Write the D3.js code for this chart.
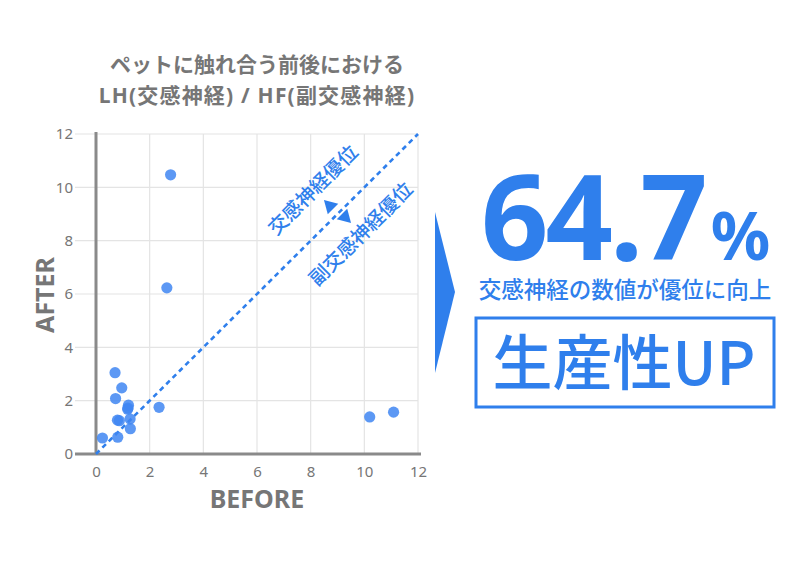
<!DOCTYPE html>
<html>
<head>
<meta charset="utf-8">
<script src="https://cdn.jsdelivr.net/npm/d3@7"></script>
<style>
  body { margin: 0; background: #fff; }
  svg { display: block; font-family: "Noto Sans CJK JP", "Noto Sans", sans-serif; }
</style>
</head>
<body>
<div id="chart"></div>
<script>
// values
var beforeVals = [2.78, 2.64, 0.71, 0.96, 0.73, 1.21, 1.18, 1.19, 2.35, 0.80, 0.87, 1.27, 1.28, 0.81, 0.24, 10.20, 11.09];
var afterVals  = [10.47, 6.23, 3.05, 2.48, 2.08, 1.83, 1.68, 1.72, 1.75, 1.27, 1.25, 1.31, 0.95, 0.63, 0.60, 1.39, 1.57];
var tickVals = [0, 2, 4, 6, 8, 10, 12];
var titleLines = ["ペットに触れ合う前後における", "LH(交感神経) / HF(副交感神経)"];
var sympLabel = "交感神経優位";
var paraLabel = "副交感神経優位";
var bigNumber = "64.7";
var subText = "交感神経の数値が優位に向上";
var boxText = "生産性UP";

var W = 800, H = 565;
var blue = "#2f7fec";
var gray = "#767676";
var latin = "'Noto Sans', 'Noto Sans CJK JP', sans-serif";

var svg = d3.select("#chart").append("svg")
    .attr("width", W)
    .attr("height", H);

var x = d3.scaleLinear().domain([0, 12]).range([96, 418]);
var y = d3.scaleLinear().domain([0, 12]).range([454, 134]);

    // grid lines
var grid = svg.append("g");
grid.selectAll("line.h").data(tickVals).enter().append("line")
    .attr("x1", 75).attr("x2", x(12))
    .attr("y1", d => y(d)).attr("y2", d => y(d))
    .style("stroke", "#e4e4e4").style("stroke-width", 1.2);
grid.selectAll("line.v").data(tickVals).enter().append("line")
    .attr("x1", d => x(d)).attr("x2", d => x(d))
    .attr("y1", y(12)).attr("y2", y(0))
    .style("stroke", "#e4e4e4").style("stroke-width", 1.2);

    // axes through d3 axis, then restyle
var xAxis = svg.append("g")
    .attr("transform", "translate(0," + y(0) + ")")
    .call(d3.axisBottom(x).tickValues(tickVals).tickSize(0).tickPadding(12));
var yAxis = svg.append("g")
    .attr("transform", "translate(" + x(0) + ",0)")
    .call(d3.axisLeft(y).tickValues(tickVals).tickSize(0).tickPadding(23));

[xAxis, yAxis].forEach(function (g) {
    g.select(".domain").remove();
    g.selectAll("text")
        .style("font-family", latin)
        .style("font-size", "15px")
        .style("fill", gray);
});

svg.append("line")
    .attr("x1", 75).attr("x2", 421)
    .attr("y1", y(0)).attr("y2", y(0))
    .style("stroke", "#8a8a8a").style("stroke-width", 3);
svg.append("line")
    .attr("x1", x(0)).attr("x2", x(0))
    .attr("y1", y(0)).attr("y2", y(12) - 2)
    .style("stroke", "#8a8a8a").style("stroke-width", 3);

    // diagonal reference line
svg.append("line")
    .attr("x1", x(0)).attr("y1", y(0))
    .attr("x2", x(12)).attr("y2", y(12))
    .style("stroke", blue)
    .style("stroke-width", 2.6)
    .style("stroke-dasharray", "5,4");

    // scatter points
svg.append("g").selectAll("circle")
    .data(beforeVals.map((b, i) => [b, afterVals[i]]))
    .enter().append("circle")
    .attr("cx", d => x(d[0]))
    .attr("cy", d => y(d[1]))
    .attr("r", 5.6)
    .style("fill", "#3f86f2")
    .style("fill-opacity", 0.85);

    // labels along the diagonal
svg.append("text")
    .attr("transform", "translate(313,190) rotate(-45)")
    .attr("text-anchor", "middle").attr("dy", "0.35em")
    .style("font-size", "19.5px").style("font-weight", 500)
    .style("fill", blue)
    .text(sympLabel);
svg.append("text")
    .attr("transform", "translate(361,234) rotate(-45)")
    .attr("text-anchor", "middle").attr("dy", "0.35em")
    .style("font-size", "19.5px").style("font-weight", 500)
    .style("fill", blue)
    .text(paraLabel);

    // arrow heads pointing away from the line on each side
var tri = d3.symbol().type(d3.symbolTriangle).size(95);
svg.append("path")
    .attr("d", tri())
    .attr("transform", "translate(330,206) rotate(-45)")
    .style("fill", blue);
svg.append("path")
    .attr("d", tri())
    .attr("transform", "translate(345,217) rotate(135)")
    .style("fill", blue);

    // title
svg.append("g").selectAll("text")
    .data(titleLines).enter().append("text")
    .attr("x", 257)
    .attr("y", (d, i) => 72 + i * 31)
    .attr("text-anchor", "middle")
    .style("font-family", latin)
    .style("font-size", "21px").style("font-weight", "bold")
    .style("letter-spacing", (d, i) => i === 1 ? "1.2px" : "0px")
    .style("fill", gray)
    .text(d => d);

    // axis titles
svg.append("text")
    .attr("x", 257).attr("y", 508)
    .attr("text-anchor", "middle")
    .style("font-family", latin)
    .style("font-size", "25px").style("font-weight", "bold")
    .style("fill", gray)
    .text("BEFORE");
svg.append("text")
    .attr("transform", "translate(54,295) rotate(-90)")
    .attr("text-anchor", "middle")
    .style("font-family", latin)
    .style("font-size", "25px").style("font-weight", "bold")
    .style("fill", gray)
    .text("AFTER");

    // right panel
svg.append("path")
    .attr("d", d3.line()([[435, 212], [455, 292], [435, 373]]) + "Z")
    .style("fill", blue);

var big = svg.append("text")
    .attr("x", 481).attr("y", 260)
    .style("font-family", latin)
    .style("font-weight", "bold")
    .style("fill", blue);
big.append("tspan")
    .style("font-size", "118px")
    .style("letter-spacing", "-3px")
    .text(bigNumber);
big.append("tspan")
    .attr("dx", 6)
    .style("font-size", "66px")
    .text("%");

svg.append("text")
    .attr("x", 625).attr("y", 298)
    .attr("text-anchor", "middle")
    .style("font-size", "22.5px").style("font-weight", 500)
    .style("fill", blue)
    .text(subText);

svg.append("rect")
    .attr("x", 476).attr("y", 318)
    .attr("width", 298).attr("height", 89)
    .style("fill", "none")
    .style("stroke", blue)
    .style("stroke-width", 3);

svg.append("text")
    .attr("x", 624).attr("y", 385)
    .attr("text-anchor", "middle")
    .style("font-size", "60px").style("font-weight", 500)
    .style("fill", blue)
    .text(boxText);
</script>
</body>
</html>
